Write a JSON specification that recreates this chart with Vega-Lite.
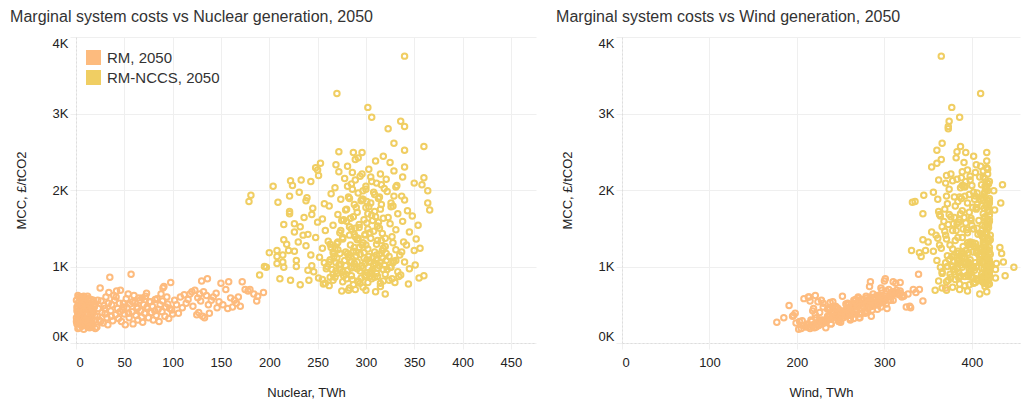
{
"$schema": "https://vega.github.io/schema/vega-lite/v6.json",
"padding": {"left": 10, "top": 8, "right": 5, "bottom": 5},
"config": {
  "font": "Liberation Sans",
  "view": {"stroke": null},
  "concat": {"spacing": 20},
  "axis": {"grid": true, "gridColor": "#efefef", "tickColor": "#efefef", "tickSize": 6, "domainColor": "#dddddd", "domainDash": [2, 2], "labelFontSize": 13, "labelColor": "#222222", "titleFontSize": 13, "titleFontWeight": "normal", "titleColor": "#222222", "labelFlush": true},
  "axisX": {"labelPadding": 7, "titlePadding": 17},
  "axisY": {"labelPadding": 2, "titlePadding": 24},
  "title": {"fontSize": 16, "fontWeight": "normal", "color": "#333333", "anchor": "start", "frame": "bounds", "offset": 12, "dx": -5}
},
"datasets": {
"legend": [],
"rm": [
{"n":1,"w":212,"c":250},{"n":2,"w":236,"c":310},{"n":1,"w":251,"c":420},{"n":3,"w":224,"c":540},{"n":2,"w":205,"c":190},{"n":4,"w":262,"c":380},{"n":5,"w":230,"c":470},{"n":3,"w":248,"c":280},{"n":6,"w":218,"c":220},{"n":7,"w":271,"c":560},{"n":5,"w":243,"c":350},{"n":8,"w":229,"c":300},{"n":9,"w":257,"c":440},{"n":6,"w":214,"c":600},{"n":10,"w":239,"c":250},{"n":11,"w":266,"c":510},{"n":12,"w":221,"c":370},{"n":13,"w":283,"c":580},{"n":8,"w":202,"c":180},{"n":14,"w":247,"c":330},{"n":15,"w":260,"c":460},{"n":16,"w":233,"c":270},{"n":17,"w":288,"c":530},{"n":12,"w":210,"c":210},{"n":18,"w":254,"c":400},{"n":19,"w":226,"c":300},{"n":2,"w":196,"c":360},{"n":4,"w":276,"c":480},{"n":7,"w":241,"c":410},{"n":10,"w":290,"c":590},{"n":14,"w":208,"c":230},{"n":3,"w":185,"c":330},{"n":9,"w":268,"c":520},{"n":11,"w":217,"c":280},{"n":1,"w":245,"c":470},{"n":13,"w":235,"c":440},{"n":16,"w":274,"c":390},{"n":6,"w":199,"c":260},{"n":18,"w":299,"c":560},{"n":20,"w":215,"c":190},{"n":0.5,"w":228,"c":560},{"n":5,"w":177,"c":270},{"n":8,"w":252,"c":610},{"n":15,"w":195,"c":350},{"n":19,"w":263,"c":470},{"n":14,"w":220,"c":200},{"n":21.6,"w":222,"c":210},
{"n":9,"w":191,"c":490},{"n":11,"w":198,"c":390},{"n":7,"w":208,"c":580},{"n":13,"w":215,"c":550},{"n":2,"w":221,"c":620},{"n":16,"w":213,"c":210},
{"n":0.5,"w":240,"c":330},{"n":1.5,"w":219,"c":450},{"n":2.5,"w":258,"c":520},{"n":3.5,"w":233,"c":200},{"n":4.5,"w":270,"c":590},{"n":5.5,"w":226,"c":400},{"n":6.5,"w":249,"c":330},{"n":7.5,"w":206,"c":290},{"n":8.5,"w":237,"c":460},{"n":9.5,"w":281,"c":540},{"n":10.5,"w":225,"c":230},{"n":11.5,"w":253,"c":330},{"n":12.5,"w":244,"c":480},{"n":13.5,"w":279,"c":420},{"n":14.5,"w":229,"c":270},{"n":15.5,"w":267,"c":570},{"n":16.5,"w":239,"c":310},{"n":17.5,"w":211,"c":240},{"n":18.5,"w":284,"c":500},{"n":19.5,"w":246,"c":360},{"n":0.5,"w":203,"c":280},{"n":2,"w":264,"c":390},{"n":4,"w":239,"c":250},{"n":6,"w":285,"c":500},{"n":8,"w":218,"c":420},{"n":10,"w":261,"c":300},{"n":12,"w":292,"c":610},{"n":17,"w":237,"c":440},{"n":20,"w":256,"c":510},{"n":3,"w":213,"c":600},
{"n":22.5,"w":265,"c":560},{"n":25.5,"w":228,"c":280},{"n":29.5,"w":247,"c":450},{"n":33.5,"w":285,"c":520},{"n":36.5,"w":235,"c":350},{"n":41.5,"w":270,"c":600},{"n":45.5,"w":253,"c":410},{"n":49.5,"w":296,"c":470},{"n":54.5,"w":242,"c":390},{"n":58.5,"w":283,"c":540},{"n":63.5,"w":261,"c":450},{"n":68.5,"w":301,"c":590},{"n":73.5,"w":266,"c":470},{"n":81.5,"w":250,"c":420},{"n":89.5,"w":294,"c":550},
{"n":22,"w":238,"c":350},{"n":23,"w":257,"c":450},{"n":24,"w":216,"c":300},{"n":25,"w":370,"c":720},{"n":26,"w":279,"c":550},{"n":27,"w":243,"c":400},{"n":28,"w":231,"c":260},{"n":29,"w":264,"c":490},{"n":30,"w":251,"c":380},{"n":31,"w":294,"c":600},{"n":32,"w":222,"c":330},{"n":34,"w":310,"c":660},{"n":35,"w":386,"c":860},{"n":36,"w":247,"c":420},{"n":37,"w":270,"c":500},{"n":38,"w":233,"c":290},{"n":40,"w":284,"c":560},{"n":41,"w":256,"c":370},{"n":42,"w":302,"c":680},{"n":43,"w":238,"c":450},{"n":44,"w":261,"c":320},{"n":45,"w":277,"c":520},{"n":46,"w":297,"c":690},{"n":47,"w":225,"c":280},{"n":48,"w":268,"c":430},{"n":50,"w":245,"c":380},{"n":51,"w":213,"c":240},{"n":52,"w":288,"c":580},{"n":53,"w":259,"c":460},{"n":55,"w":240,"c":330},{"n":56,"w":273,"c":510},{"n":57,"w":339,"c":900},{"n":58,"w":251,"c":410},{"n":59,"w":228,"c":250},{"n":60,"w":295,"c":620},{"n":62,"w":262,"c":360},{"n":63,"w":281,"c":470},{"n":64,"w":247,"c":300},{"n":66,"w":305,"c":560},{"n":67,"w":266,"c":420},{"n":68,"w":236,"c":340},{"n":70,"w":290,"c":500},{"n":71,"w":256,"c":390},{"n":72,"w":279,"c":610},{"n":74,"w":244,"c":450},{"n":75,"w":271,"c":330},{"n":76,"w":299,"c":540},{"n":78,"w":258,"c":400},{"n":79,"w":286,"c":480},{"n":80,"w":233,"c":300},{"n":82,"w":274,"c":570},{"n":83,"w":262,"c":360},{"n":85,"w":292,"c":440},{"n":86,"w":248,"c":280},{"n":88,"w":308,"c":640},{"n":89,"w":268,"c":410},{"n":90,"w":296,"c":720},{"n":91,"w":283,"c":740},{"n":92,"w":255,"c":350},{"n":93,"w":277,"c":470},{"n":95,"w":302,"c":510},{"n":96,"w":265,"c":320},{"n":98,"w":318,"c":790},{"n":99,"w":286,"c":430},{"n":100,"w":271,"c":380},
{"n":33,"w":219,"c":240},{"n":39,"w":292,"c":620},{"n":49,"w":230,"c":520},{"n":54,"w":315,"c":640},{"n":61,"w":238,"c":530},{"n":65,"w":280,"c":590},{"n":69,"w":250,"c":270},{"n":73,"w":312,"c":650},{"n":77,"w":241,"c":540},{"n":84,"w":300,"c":580},{"n":87,"w":259,"c":500},{"n":94,"w":289,"c":600},{"n":97,"w":245,"c":450},
{"n":102,"w":276,"c":560},{"n":104,"w":293,"c":500},{"n":106,"w":260,"c":390},{"n":108,"w":305,"c":600},{"n":110,"w":282,"c":460},{"n":112,"w":317,"c":630},{"n":114,"w":268,"c":520},{"n":116,"w":298,"c":570},{"n":118,"w":287,"c":640},{"n":120,"w":309,"c":670},{"n":121,"w":274,"c":480},{"n":123,"w":314,"c":690},{"n":125,"w":257,"c":370},{"n":126,"w":296,"c":590},{"n":127,"w":280,"c":400},{"n":128,"w":302,"c":640},{"n":129,"w":266,"c":550},{"n":130,"w":300,"c":810},{"n":131,"w":285,"c":350},{"n":132,"w":311,"c":670},{"n":133,"w":272,"c":330},{"n":135,"w":322,"c":620},{"n":136,"w":301,"c":840},{"n":137,"w":290,"c":500},{"n":138,"w":278,"c":390},{"n":140,"w":307,"c":560},{"n":142,"w":284,"c":600},{"n":145,"w":318,"c":650},{"n":148,"w":296,"c":540},{"n":150,"w":313,"c":780},{"n":152,"w":289,"c":500},{"n":155,"w":305,"c":700},{"n":158,"w":284,"c":800},{"n":160,"w":298,"c":590},{"n":162,"w":325,"c":470},{"n":164,"w":310,"c":560},{"n":166,"w":293,"c":520},{"n":168,"w":320,"c":600},{"n":170,"w":329,"c":480},{"n":172,"w":310,"c":800},{"n":175,"w":333,"c":700},{"n":178,"w":318,"c":680},{"n":180,"w":340,"c":700},{"n":184,"w":327,"c":640},{"n":187,"w":344,"c":550},{"n":188,"w":322,"c":610},{"n":194,"w":336,"c":660},{"n":146,"w":330,"c":460},{"n":157,"w":303,"c":450}
],
"nccs": [
{"n":320,"w":409,"c":640},{"n":282,"w":371,"c":690},{"n":289,"w":386,"c":700},{"n":300,"w":358,"c":690},{"n":310,"w":417,"c":670},{"n":275,"w":395,"c":680},
{"n":232,"w":418,"c":760},{"n":344,"w":420,"c":770},{"n":262,"w":392,"c":750},{"n":297,"w":378,"c":730},{"n":315,"w":402,"c":780},{"n":283,"w":366,"c":720},{"n":330,"w":414,"c":790},{"n":256,"w":386,"c":770},
{"n":211,"w":405,"c":840},{"n":222,"w":373,"c":820},{"n":241,"w":416,"c":820},{"n":355,"w":427,"c":850},{"n":360,"w":438,"c":880},{"n":190,"w":419,"c":890},{"n":268,"w":399,"c":860},{"n":286,"w":381,"c":830},{"n":304,"w":412,"c":870},{"n":318,"w":362,"c":810},{"n":336,"w":395,"c":890},{"n":251,"w":420,"c":850},{"n":277,"w":387,"c":880},{"n":292,"w":416,"c":810},{"n":309,"w":376,"c":860},{"n":327,"w":418,"c":840},
{"n":195,"w":372,"c":1000},{"n":197,"w":389,"c":990},{"n":215,"w":418,"c":990},{"n":246,"w":380,"c":930},{"n":259,"w":414,"c":970},{"n":270,"w":366,"c":910},{"n":281,"w":403,"c":950},{"n":294,"w":419,"c":940},{"n":301,"w":385,"c":920},{"n":312,"w":411,"c":980},{"n":322,"w":397,"c":960},{"n":333,"w":420,"c":930},{"n":345,"w":383,"c":970},{"n":265,"w":427,"c":960},{"n":288,"w":364,"c":990},{"n":306,"w":416,"c":910},{"n":240,"w":399,"c":950},{"n":326,"w":448,"c":990},
{"n":214,"w":412,"c":1060},{"n":208,"w":396,"c":1040},{"n":351,"w":421,"c":1020},{"n":228,"w":385,"c":1080},{"n":244,"w":419,"c":1010},{"n":257,"w":370,"c":1050},{"n":263,"w":409,"c":1090},{"n":274,"w":392,"c":1030},{"n":285,"w":417,"c":1070},{"n":296,"w":377,"c":1010},{"n":303,"w":414,"c":1060},{"n":311,"w":398,"c":1090},{"n":319,"w":420,"c":1020},{"n":329,"w":384,"c":1070},{"n":340,"w":436,"c":1060},{"n":299,"w":428,"c":1040},{"n":278,"w":360,"c":1080},
{"n":200,"w":340,"c":1180},{"n":208,"w":342,"c":1130},{"n":350,"w":415,"c":1210},{"n":214,"w":411,"c":1150},{"n":226,"w":356,"c":1200},{"n":252,"w":418,"c":1120},{"n":267,"w":390,"c":1170},{"n":279,"w":413,"c":1190},{"n":290,"w":372,"c":1140},{"n":298,"w":405,"c":1180},{"n":307,"w":419,"c":1110},{"n":314,"w":388,"c":1160},{"n":324,"w":416,"c":1130},{"n":337,"w":401,"c":1190},{"n":281,"w":434,"c":1170},{"n":243,"w":380,"c":1150},
{"n":208,"w":331,"c":1210},{"n":220,"w":347,"c":1210},{"n":238,"w":402,"c":1270},{"n":255,"w":365,"c":1240},{"n":271,"w":417,"c":1220},{"n":284,"w":396,"c":1280},{"n":293,"w":420,"c":1250},{"n":302,"w":378,"c":1230},{"n":311,"w":414,"c":1290},{"n":320,"w":390,"c":1260},{"n":331,"w":419,"c":1220},{"n":342,"w":363,"c":1280},{"n":356,"w":408,"c":1240},{"n":264,"w":432,"c":1250},{"n":287,"w":384,"c":1200},
{"n":215,"w":344,"c":1350},{"n":230,"w":350,"c":1320},{"n":248,"w":389,"c":1380},{"n":261,"w":419,"c":1330},{"n":276,"w":371,"c":1360},{"n":289,"w":412,"c":1390},{"n":297,"w":395,"c":1310},{"n":305,"w":418,"c":1370},{"n":316,"w":381,"c":1340},{"n":327,"w":413,"c":1390},{"n":339,"w":398,"c":1320},{"n":352,"w":420,"c":1360},{"n":270,"w":404,"c":1300},{"n":292,"w":361,"c":1370},
{"n":226,"w":354,"c":1450},{"n":240,"w":407,"c":1420},{"n":258,"w":378,"c":1470},{"n":273,"w":416,"c":1440},{"n":285,"w":390,"c":1490},{"n":299,"w":421,"c":1410},{"n":308,"w":369,"c":1460},{"n":317,"w":410,"c":1430},{"n":331,"w":394,"c":1480},{"n":345,"w":417,"c":1450},{"n":283,"w":359,"c":1410},{"n":302,"w":402,"c":1490},
{"n":215,"w":373,"c":1550},{"n":232,"w":415,"c":1520},{"n":250,"w":385,"c":1580},{"n":266,"w":412,"c":1540},{"n":280,"w":368,"c":1590},{"n":293,"w":419,"c":1510},{"n":301,"w":393,"c":1570},{"n":312,"w":415,"c":1530},{"n":325,"w":379,"c":1560},{"n":338,"w":420,"c":1590},{"n":354,"w":400,"c":1540},{"n":289,"w":406,"c":1500},
{"n":221,"w":344,"c":1690},{"n":236,"w":391,"c":1640},{"n":255,"w":418,"c":1620},{"n":271,"w":374,"c":1680},{"n":287,"w":415,"c":1650},{"n":298,"w":386,"c":1610},{"n":306,"w":420,"c":1670},{"n":318,"w":399,"c":1630},{"n":333,"w":413,"c":1690},{"n":348,"w":364,"c":1660},{"n":275,"w":408,"c":1600},{"n":310,"w":376,"c":1650},
{"n":221,"w":362,"c":1720},{"n":245,"w":414,"c":1760},{"n":262,"w":381,"c":1790},{"n":279,"w":418,"c":1740},{"n":291,"w":397,"c":1710},{"n":303,"w":419,"c":1780},{"n":315,"w":369,"c":1750},{"n":328,"w":411,"c":1790},{"n":343,"w":389,"c":1730},{"n":366,"w":426,"c":1740},{"n":300,"w":405,"c":1770},
{"n":179,"w":335,"c":1850},{"n":209,"w":332,"c":1840},{"n":238,"w":418,"c":1860},{"n":257,"w":372,"c":1820},{"n":274,"w":403,"c":1880},{"n":288,"w":417,"c":1810},{"n":301,"w":384,"c":1850},{"n":313,"w":420,"c":1890},{"n":326,"w":395,"c":1830},{"n":340,"w":413,"c":1870},{"n":364,"w":433,"c":1830},{"n":296,"w":361,"c":1880},
{"n":181,"w":345,"c":1930},{"n":221,"w":392,"c":1920},{"n":231,"w":356,"c":1970},{"n":264,"w":414,"c":1950},{"n":282,"w":380,"c":1910},{"n":297,"w":418,"c":1990},{"n":309,"w":397,"c":1940},{"n":322,"w":415,"c":1980},{"n":337,"w":371,"c":1920},{"n":364,"w":425,"c":1990},{"n":292,"w":406,"c":1960},
{"n":204,"w":415,"c":2050},{"n":224,"w":400,"c":2060},{"n":268,"w":387,"c":2030},{"n":285,"w":419,"c":2080},{"n":300,"w":374,"c":2010},{"n":316,"w":411,"c":2070},{"n":331,"w":392,"c":2040},{"n":350,"w":418,"c":2090},{"n":358,"w":435,"c":2070},
{"n":222,"w":378,"c":2120},{"n":233,"w":362,"c":2130},{"n":251,"w":371,"c":2190},{"n":360,"w":388,"c":2160},{"n":278,"w":415,"c":2150},{"n":294,"w":398,"c":2180},{"n":306,"w":420,"c":2110},{"n":321,"w":383,"c":2140},{"n":338,"w":409,"c":2170},{"n":243,"w":393,"c":2110},
{"n":250,"w":395,"c":2260},{"n":248,"w":417,"c":2290},{"n":286,"w":404,"c":2230},{"n":303,"w":418,"c":2270},{"n":315,"w":376,"c":2210},{"n":329,"w":413,"c":2250},{"n":272,"w":389,"c":2240},
{"n":340,"w":354,"c":2300},{"n":269,"w":405,"c":2330},{"n":281,"w":410,"c":2310},{"n":253,"w":360,"c":2350},{"n":289,"w":365,"c":2400},{"n":310,"w":417,"c":2380},{"n":325,"w":391,"c":2360},
{"n":292,"w":382,"c":2420},{"n":272,"w":383,"c":2500},{"n":287,"w":393,"c":2490},{"n":296,"w":417,"c":2490},{"n":340,"w":360,"c":2520},{"n":318,"w":402,"c":2440},
{"n":329,"w":366,"c":2610},{"n":360,"w":387,"c":2570},{"n":323,"w":373,"c":2800},{"n":340,"w":373,"c":2830},{"n":336,"w":374,"c":2900},{"n":306,"w":386,"c":2950},{"n":302,"w":377,"c":3080},{"n":270,"w":410,"c":3260},{"n":340,"w":365,"c":3750},
{"n":258,"w":416,"c":780},{"n":263,"w":401,"c":860},{"n":269,"w":419,"c":940},{"n":272,"w":388,"c":1020},{"n":276,"w":412,"c":800},{"n":279,"w":375,"c":900},{"n":284,"w":420,"c":1060},{"n":287,"w":397,"c":760},{"n":291,"w":414,"c":970},{"n":295,"w":385,"c":850},{"n":298,"w":418,"c":1110},{"n":302,"w":404,"c":790},{"n":305,"w":366,"c":930},{"n":308,"w":420,"c":1010},{"n":312,"w":392,"c":870},{"n":315,"w":415,"c":740},{"n":318,"w":379,"c":960},{"n":321,"w":419,"c":1080},{"n":324,"w":408,"c":820},{"n":260,"w":421,"c":1000},{"n":267,"w":377,"c":1130},{"n":283,"w":410,"c":1150},{"n":300,"w":420,"c":890},{"n":310,"w":384,"c":1040},{"n":292,"w":371,"c":800},
{"n":262,"w":418,"c":1060},{"n":266,"w":396,"c":1180},{"n":271,"w":413,"c":1320},{"n":274,"w":382,"c":1470},{"n":277,"w":420,"c":1610},{"n":280,"w":405,"c":1750},{"n":283,"w":388,"c":1890},{"n":286,"w":416,"c":2010},{"n":289,"w":398,"c":2130},{"n":293,"w":419,"c":1550},{"n":296,"w":375,"c":1280},{"n":299,"w":412,"c":1420},{"n":302,"w":387,"c":1690},{"n":305,"w":420,"c":1830},{"n":308,"w":402,"c":1970},{"n":311,"w":370,"c":2090},{"n":314,"w":417,"c":1500},{"n":317,"w":393,"c":1210},{"n":320,"w":414,"c":1370},{"n":323,"w":380,"c":1640},{"n":326,"w":419,"c":1780},{"n":329,"w":404,"c":1920},{"n":332,"w":389,"c":2060},{"n":335,"w":416,"c":1150},{"n":268,"w":409,"c":1230},{"n":291,"w":421,"c":1350},{"n":304,"w":395,"c":1440},{"n":313,"w":418,"c":1580},{"n":283,"w":366,"c":1520},{"n":297,"w":410,"c":1880},
{"n":255,"w":405,"c":830},{"n":266,"w":411,"c":900},{"n":273,"w":380,"c":960},{"n":280,"w":419,"c":840},{"n":288,"w":393,"c":1040},{"n":294,"w":414,"c":780},{"n":301,"w":374,"c":1090},{"n":307,"w":417,"c":960},{"n":314,"w":400,"c":1010},{"n":320,"w":418,"c":900},{"n":328,"w":386,"c":1050},{"n":334,"w":415,"c":870},{"n":270,"w":392,"c":1110},{"n":290,"w":420,"c":1190},{"n":311,"w":408,"c":1150},
{"n":226,"w":383,"c":1560},{"n":235,"w":370,"c":1410},{"n":218,"w":398,"c":1290},{"n":244,"w":363,"c":1680},{"n":239,"w":412,"c":1900},{"n":228,"w":405,"c":1000},
{"n":266,"w":419,"c":820},{"n":269,"w":404,"c":1050},{"n":273,"w":416,"c":1170},{"n":276,"w":398,"c":930},{"n":279,"w":420,"c":1010},{"n":282,"w":391,"c":1120},{"n":285,"w":414,"c":880},{"n":288,"w":405,"c":1250},{"n":291,"w":379,"c":1060},{"n":294,"w":421,"c":1160},{"n":297,"w":400,"c":980},{"n":300,"w":415,"c":1280},{"n":303,"w":389,"c":1130},{"n":306,"w":419,"c":840},{"n":309,"w":407,"c":1190},{"n":312,"w":420,"c":1340},{"n":315,"w":396,"c":1060},{"n":318,"w":412,"c":1240},{"n":321,"w":384,"c":1170},{"n":325,"w":417,"c":990},{"n":328,"w":401,"c":1310},{"n":331,"w":420,"c":1080},{"n":276,"w":384,"c":1380},{"n":288,"w":417,"c":1420},{"n":305,"w":409,"c":1060},{"n":317,"w":419,"c":1110},{"n":263,"w":413,"c":1290},{"n":299,"w":396,"c":870},{"n":285,"w":402,"c":980},{"n":311,"w":419,"c":910},
{"n":284,"w":414,"c":1630},{"n":290,"w":401,"c":1770},{"n":295,"w":420,"c":1860},{"n":300,"w":391,"c":2050},{"n":305,"w":413,"c":2170},{"n":309,"w":420,"c":1720},{"n":314,"w":386,"c":1910},{"n":319,"w":417,"c":2020},{"n":307,"w":399,"c":1600},{"n":296,"w":418,"c":2210},{"n":281,"w":392,"c":2050},{"n":316,"w":406,"c":1810}
]
},
"resolve": {"scale": {"color": "independent"}, "legend": {"color": "independent"}},
"hconcat": [
{
  "width": 460, "height": 306,
  "title": {"text": "Marginal system costs vs Nuclear generation, 2050"},
  "encoding": {
    "x": {"field": "n", "type": "quantitative", "scale": {"domain": [0, 476], "nice": false, "zero": false}, "axis": {"title": "Nuclear, TWh", "values": [0, 50, 100, 150, 200, 250, 300, 350, 400, 450]}},
    "y": {"field": "c", "type": "quantitative", "scale": {"domain": [0, 4000], "nice": false}, "axis": {"title": "MCC, £/tCO2", "values": [0, 1000, 2000, 3000, 4000], "labelExpr": "datum.value / 1000 + 'K'"}}
  },
  "layer": [
    {"data": {"name": "legend"}, "mark": {"type": "square", "filled": true, "size": 225},
     "encoding": {"color": {"field": "s", "type": "nominal", "scale": {"domain": ["RM, 2050", "RM-NCCS, 2050"], "range": ["#FDBB7E", "#F0CE63"]},
       "legend": {"orient": "none", "legendX": 10, "legendY": 13, "title": null, "padding": 0, "symbolType": "square", "symbolSize": 225, "symbolStrokeWidth": 0, "symbolOpacity": 1, "labelFontSize": 15, "labelOffset": 6, "rowPadding": 4, "labelColor": "#333333"}}}},
    {"data": {"name": "rm"}, "mark": {"type": "point", "shape": "circle", "filled": false, "size": 30, "strokeWidth": 2, "opacity": 1},
     "encoding": {"color": {"datum": "RM, 2050", "type": "nominal", "scale": {"domain": ["RM, 2050", "RM-NCCS, 2050"], "range": ["#FDBB7E", "#F0CE63"]}, "legend": null}}},
    {"data": {"name": "nccs"}, "mark": {"type": "point", "shape": "circle", "filled": false, "size": 30, "strokeWidth": 2, "opacity": 1},
     "encoding": {"color": {"datum": "RM-NCCS, 2050", "type": "nominal", "scale": {"domain": ["RM, 2050", "RM-NCCS, 2050"], "range": ["#FDBB7E", "#F0CE63"]}, "legend": null}}}
  ]
},
{
  "width": 398, "height": 306,
  "title": {"text": "Marginal system costs vs Wind generation, 2050"},
  "encoding": {
    "x": {"field": "w", "type": "quantitative", "scale": {"domain": [0, 455], "nice": false, "zero": false}, "axis": {"title": "Wind, TWh", "values": [0, 100, 200, 300, 400]}},
    "y": {"field": "c", "type": "quantitative", "scale": {"domain": [0, 4000], "nice": false}, "axis": {"title": "MCC, £/tCO2", "values": [0, 1000, 2000, 3000, 4000], "labelExpr": "datum.value / 1000 + 'K'"}}
  },
  "layer": [
    {"data": {"name": "rm"}, "mark": {"type": "point", "shape": "circle", "filled": false, "size": 30, "strokeWidth": 2, "opacity": 1},
     "encoding": {"color": {"datum": "RM, 2050", "type": "nominal", "scale": {"domain": ["RM, 2050", "RM-NCCS, 2050"], "range": ["#FDBB7E", "#F0CE63"]}, "legend": null}}},
    {"data": {"name": "nccs"}, "mark": {"type": "point", "shape": "circle", "filled": false, "size": 30, "strokeWidth": 2, "opacity": 1},
     "encoding": {"color": {"datum": "RM-NCCS, 2050", "type": "nominal", "scale": {"domain": ["RM, 2050", "RM-NCCS, 2050"], "range": ["#FDBB7E", "#F0CE63"]}, "legend": null}}}
  ]
}
]
}
